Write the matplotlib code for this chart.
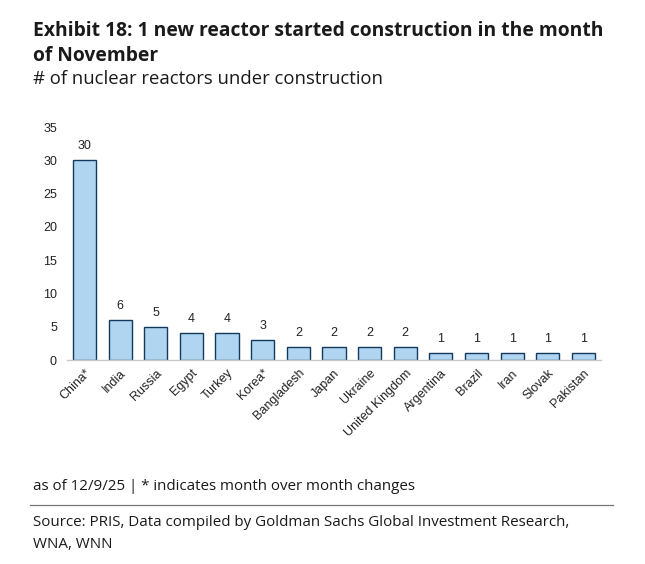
import matplotlib
matplotlib.use("Agg")
import matplotlib.pyplot as plt

countries = ["China*", "India", "Russia", "Egypt", "Turkey", "Korea*", "Bangladesh",
             "Japan", "Ukraine", "United Kingdom", "Argentina", "Brazil", "Iran",
             "Slovak", "Pakistan"]
reactors = [30, 6, 5, 4, 4, 3, 2, 2, 2, 2, 1, 1, 1, 1, 1]
y_ticks = [0, 5, 10, 15, 20, 25, 30, 35]

title_font = "Open Sans"
chart_font = "Liberation Sans"

fig = plt.figure(figsize=(6.45, 5.64), dpi=100)
ax = fig.add_axes([0.1034, 0.3617, 0.8288, 0.4131])

x = range(len(countries))
bars = ax.bar(x, reactors, width=0.65, color="#b0d5f1", edgecolor="#123a5e", linewidth=1.0)

for xi, v in zip(x, reactors):
    ax.text(xi, v + 1.2, str(v), ha="center", va="bottom", fontsize=9,
            family=chart_font, color="#222222")

ax.set_xlim(-0.5, len(countries) - 0.5)
ax.set_ylim(0, 35)
ax.set_yticks(y_ticks)
ax.set_yticklabels([str(t) for t in y_ticks], fontsize=9, family=chart_font, color="#222222")
ax.set_xticks(list(x))
ax.set_xticklabels(countries, rotation=45, ha="right", rotation_mode="anchor",
                   fontsize=9, family=chart_font, color="#222222")
ax.tick_params(axis="both", length=0)
ax.tick_params(axis="y", pad=7)
ax.tick_params(axis="x", pad=5)

for side in ["top", "right", "left"]:
    ax.spines[side].set_visible(False)
ax.spines["bottom"].set_color("#c8c8c8")
ax.spines["bottom"].set_linewidth(1.0)

# title block
fig.text(33 / 645, 1 - 31 / 564, "Exhibit 18: 1 new reactor started construction in the month",
         fontsize=13.9, fontweight="bold", family=title_font, color="#1a1a1a", va="center")
fig.text(33 / 645, 1 - 56 / 564, "of November",
         fontsize=13.9, fontweight="bold", family=title_font, color="#1a1a1a", va="center")
fig.text(33 / 645, 1 - 79 / 564, "# of nuclear reactors under construction",
         fontsize=13.3, family=title_font, color="#1a1a1a", va="center")

# footer
fig.text(33 / 645, 1 - 486 / 564, "as of 12/9/25 | * indicates month over month changes",
         fontsize=10.9, family=title_font, color="#1a1a1a", va="center")
fig.add_artist(plt.Line2D([30 / 645, 613 / 645], [1 - 505 / 564, 1 - 505 / 564],
                          color="#777777", linewidth=0.9))
fig.text(33 / 645, 1 - 523 / 564,
         "Source: PRIS, Data compiled by Goldman Sachs Global Investment Research,",
         fontsize=10.9, family=title_font, color="#1a1a1a", va="center")
fig.text(33 / 645, 1 - 545 / 564, "WNA, WNN",
         fontsize=10.9, family=title_font, color="#1a1a1a", va="center")

fig.savefig("out.png", dpi=100)
